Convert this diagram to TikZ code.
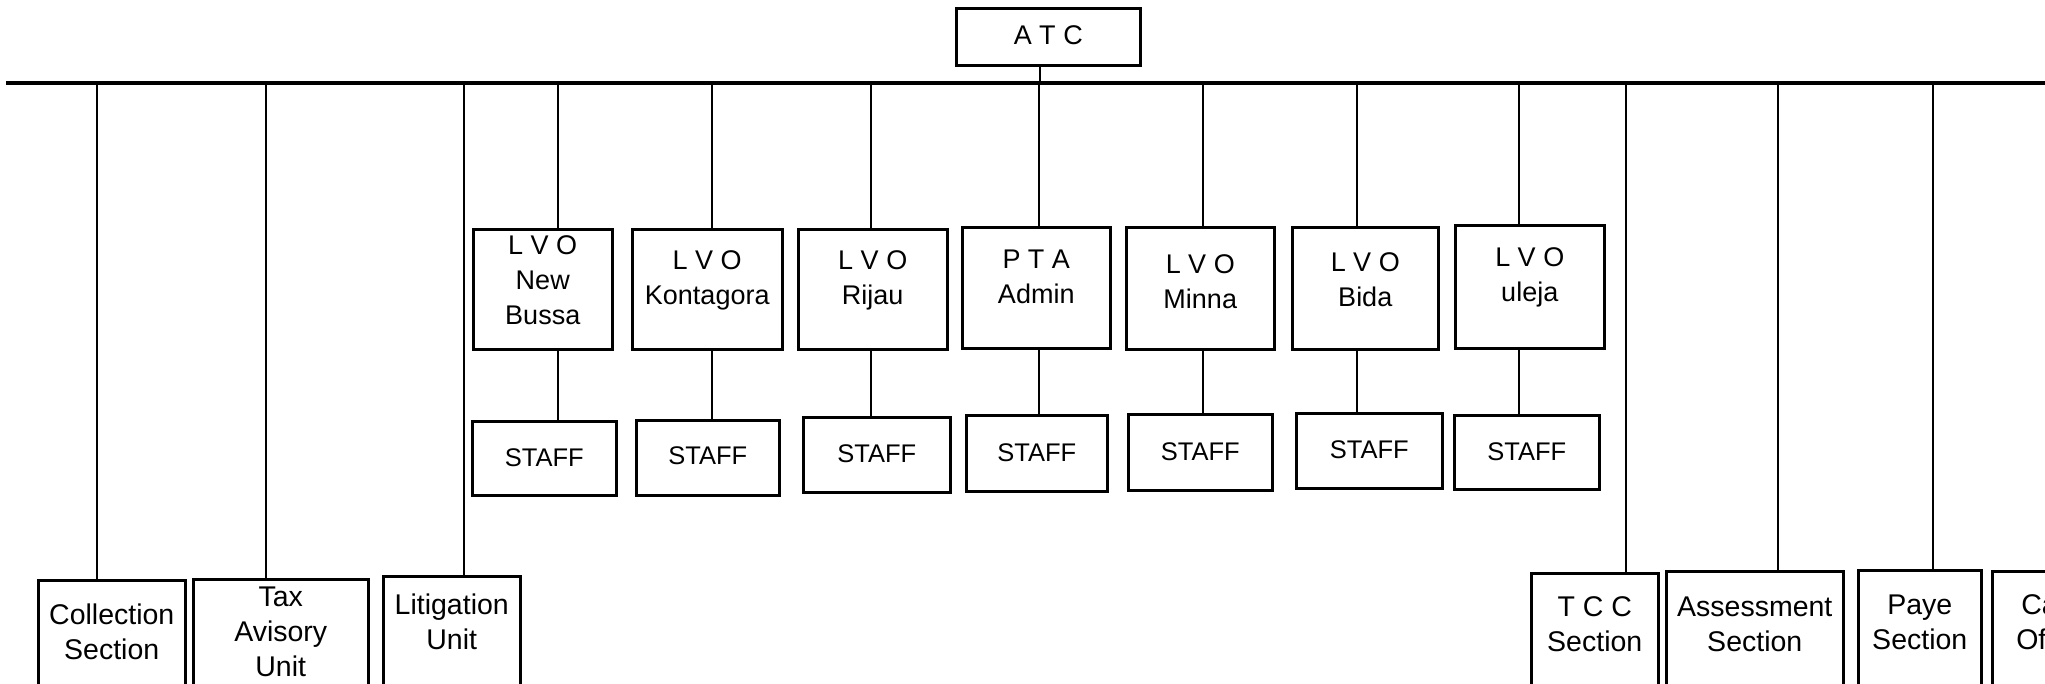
\documentclass[tikz,border=0pt]{standalone}
\usepackage{fontspec}
\setmainfont{Liberation Sans}
% #1 font size, #2 width, #3 height, #4 first baseline below top, #5 text
\newcommand{\bx}[5]{\parbox[c][#3pt][t]{#2pt}{\fontsize{#1pt}{35pt}\selectfont\centering\rule{0pt}{#4pt}#5}}
\begin{document}
\begin{tikzpicture}[x=1pt,y=-1pt,
  box/.style={draw, line width=2.5pt, inner sep=0pt, anchor=north west},
  stem/.style={line width=2pt},
  bar/.style={line width=3.5pt}]
\useasboundingbox (0,0) rectangle (2045,683);
\clip (0,0) rectangle (2045,683);
\fill[white] (0,0) rectangle (2045,683);

% top
\node[box] (atc) at (955,7) {\bx{27}{184}{57}{36}{A T C}};

% LVO row
\node[box] (nb)  at (472,228)  {\bx{27}{139}{120}{25}{L V O\\New\\Bussa}};
\node[box] (kon) at (631,228)  {\bx{27}{150}{120}{40}{L V O\\Kontagora}};
\node[box] (rij) at (797,228)  {\bx{27}{149}{120}{40}{L V O\\Rijau}};
\node[box] (pta) at (961,226)  {\bx{27}{148}{121}{41}{P T A\\Admin}};
\node[box] (mnn) at (1125,226) {\bx{27}{148}{122}{46}{L V O\\Minna}};
\node[box] (bid) at (1291,226) {\bx{27}{146}{122}{44}{L V O\\Bida}};
\node[box] (ile) at (1454,224) {\bx{27}{149}{123}{41}{L V O\\uleja}};

% staff row
\node[box] (nb-s)  at (471,420)  {\bx{25.5}{144}{74}{45}{STAFF}};
\node[box] (kon-s) at (635,419)  {\bx{25.5}{143}{75}{44}{STAFF}};
\node[box] (rij-s) at (802,416)  {\bx{25.5}{147}{75}{45}{STAFF}};
\node[box] (pta-s) at (965,414)  {\bx{25.5}{141}{76}{46}{STAFF}};
\node[box] (mnn-s) at (1127,413) {\bx{25.5}{144}{76}{46}{STAFF}};
\node[box] (bid-s) at (1295,412) {\bx{25.5}{146}{75}{45}{STAFF}};
\node[box] (ile-s) at (1453,414) {\bx{25.5}{145}{74}{45}{STAFF}};

% bottom row
\node[box] (col) at (37,579)   {\bx{28.5}{147}{130}{44}{Collection\\Section}};
\node[box] (tax) at (192,578)  {\bx{28.5}{175}{130}{27}{Tax\\Avisory\\Unit}};
\node[box] (lit) at (382,575)  {\bx{28.5}{137}{130}{38}{Litigation\\Unit}};
\node[box] (tcc) at (1530,572) {\bx{28.5}{127}{130}{43}{T C C\\Section}};
\node[box] (ass) at (1665,570) {\bx{28.5}{177}{130}{45}{Assessment\\Section}};
\node[box] (pay) at (1857,569) {\bx{28.5}{123}{130}{44}{Paye\\Section}};
\node[box] (ca)  at (1991,570) {\bx{28.5}{125}{130}{43}{\raggedright\hspace*{29pt}Ca\\\hspace*{24pt}Of}};

% horizontal bar
\coordinate (bl) at (6,83);
\coordinate (br) at (2050,83);
\draw[bar] (bl) -- (br);

% ATC stem
\coordinate (s-atc) at (1040,83);
\draw[stem] (s-atc) -- (s-atc |- atc.south);

% stems to bottom row
\foreach \n/\x in {col/97, tax/266, lit/464, tcc/1626, ass/1778, pay/1933}{
  \coordinate (s-\n) at (\x,83);
  \draw[stem] (s-\n) -- (s-\n |- \n.north);
}

% stems to LVO row and staff
\foreach \n/\x in {nb/558, kon/712, rij/871, pta/1039, mnn/1203, bid/1357, ile/1519}{
  \coordinate (s-\n) at (\x,83);
  \draw[stem] (s-\n) -- (s-\n |- \n.north);
  \draw[stem] (s-\n |- \n.south) -- (s-\n |- \n-s.north);
}
\end{tikzpicture}
\end{document}
